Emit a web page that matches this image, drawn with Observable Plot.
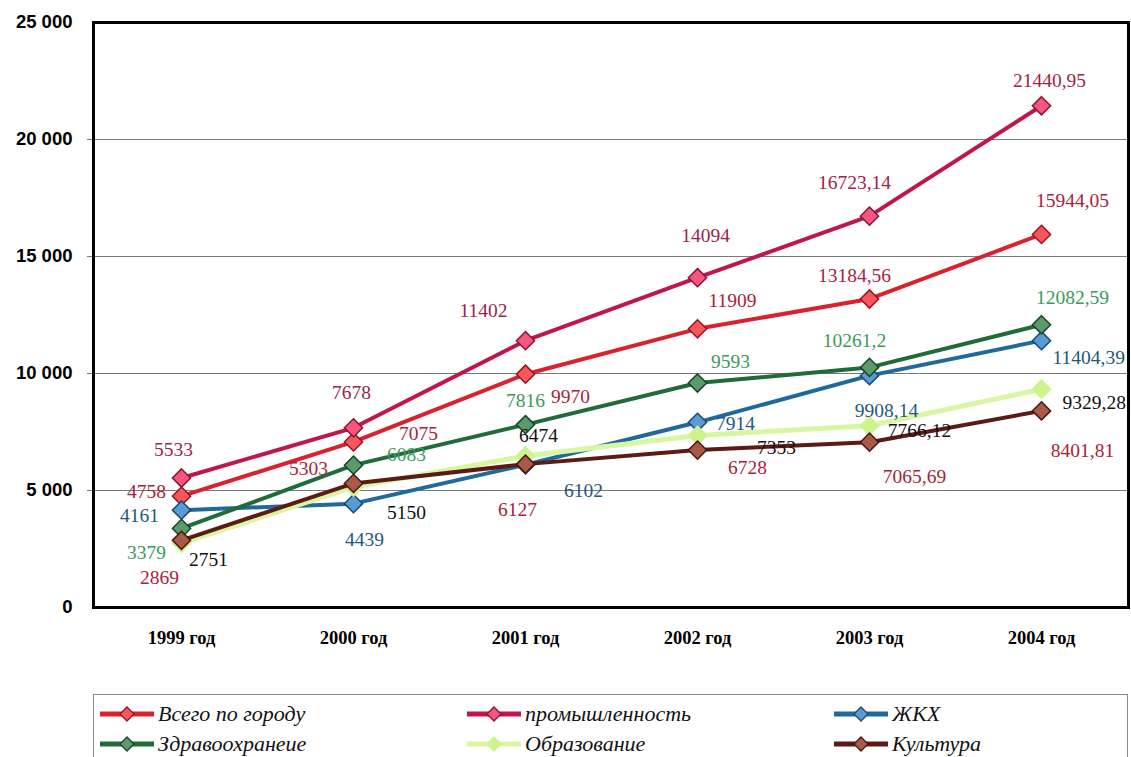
<!DOCTYPE html>
<html>
<head>
<meta charset="utf-8">
<script src="https://cdn.jsdelivr.net/npm/d3@7"></script>
<script src="https://cdn.jsdelivr.net/npm/@observablehq/plot@0.6"></script>
<style>
  body { margin: 0; background: white; width: 1131px; height: 757px; overflow: hidden; }
  #chart svg { display: block; }
  #legend { position: relative; margin-left: 93px; margin-top: 4px; width: 1035px; height: 63px;
            border: 1px solid #8a8a8a; border-bottom: none; box-sizing: border-box; }
  .item { position: absolute; display: flex; align-items: center; height: 26px;
          font-family: "Liberation Serif", serif; font-style: italic; font-size: 22px; color: #111; }
  .item svg { display: block; margin-right: 3px; }
</style>
</head>
<body>
<div id="chart"></div>
<div id="legend"></div>
<script>
// ---- data ----
const years = ["1999 год", "2000 год", "2001 год", "2002 год", "2003 год", "2004 год"];
const seriesNames = ["Всего по городу", "промышленность", "ЖКХ", "Здравоохранеие", "Образование", "Культура"];
const vsego = [4758, 7075, 9970, 11909, 13184.56, 15944.05];
const prom = [5533, 7678, 11402, 14094, 16723.14, 21440.95];
const zhkh = [4161, 4439, 6102, 7914, 9908.14, 11404.39];
const zdrav = [3379, 6083, 7816, 9593, 10261.2, 12082.59];
const obraz = [2751, 5150, 6474, 7353, 7766.12, 9329.28];
const kult = [2869, 5303, 6127, 6728, 7065.69, 8401.81];
const yTicks = [0, 5000, 10000, 15000, 20000, 25000];
const gridValues = [5000, 10000, 15000, 20000];

// ---- styling ----
const styles = [
  {line: "#d9222e", fill: "#f5585c", edge: "#9e1020", label: "#a8233a"},
  {line: "#c0174a", fill: "#f2587e", edge: "#8e1036", label: "#9e2348"},
  {line: "#1f6a9a", fill: "#5b9bd5", edge: "#174a70", label: "#1f5878"},
  {line: "#1f6b3a", fill: "#5b9a6b", edge: "#17452a", label: "#3a9a5a"},
  {line: "#d9f7a2", fill: "#cdf48c", edge: "#cdf48c", label: "#111111"},
  {line: "#5c1a14", fill: "#a85a48", edge: "#4a1510", label: "#a8233a"}
];
// label offsets (dx, dy, anchor) relative to each point — layout only
const labelLayout = [
  [[-35,-4],[65,-8],[45,23],[35,-28],[-15,-23],[31,-34]],
  [[-8,-28],[-2,-35],[-42,-30],[8,-42],[-15,-33],[8,-25]],
  [[-42,6],[11,36],[58,26],[38,1],[17,35],[11,17,"start"]],
  [[-35,24],[53,-10],[0,-24],[33,-21],[-15,-27],[31,-27]],
  [[27,17],[53,26],[13,-20],[79,12],[50,5],[21,14,"start"]],
  [[-22,37],[-45,-15],[-8,46],[50,18],[45,35],[41,40]]
];

const allValues = [vsego, prom, zhkh, zdrav, obraz, kult];
const tables = allValues.map((vals, s) => years.map((y, i) => ({year: y, value: vals[i], series: seriesNames[s]})));
const fmtLabel = v => String(v).replace(".", ",");
const fmtTick = d => d3.format(",")(d).replace(/,/g, " ");

const marks = [
  Plot.ruleY(gridValues, {stroke: "#7a7a7a", strokeWidth: 1, insetLeft: -6})
];
tables.forEach((t, s) => {
  const st = styles[s];
  marks.push(Plot.line(t, {x: "year", y: "value", stroke: st.line, strokeWidth: s === 4 ? 5 : 4}));
  marks.push(Plot.dot(t, {x: "year", y: "value", symbol: "diamond2", r: 8.2, fill: st.fill, stroke: st.edge, strokeWidth: 1.5}));
});
tables.forEach((t, s) => {
  t.forEach((d, i) => {
    const [dx, dy, anchor] = labelLayout[s][i];
    marks.push(Plot.text([d], {x: "year", y: "value", text: dd => fmtLabel(dd.value), dx, dy,
      textAnchor: anchor || "middle", fill: styles[s].label, fontSize: 19.5, fontFamily: "Liberation Serif"}));
  });
});
marks.push(Plot.frame({stroke: "black", strokeWidth: 3}));
marks.push(Plot.axisY({ticks: yTicks, tickFormat: fmtTick, tickSize: 0, tickPadding: 21, fontSize: 18.5,
  fontWeight: "bold", fontFamily: "Liberation Sans", label: null}));
marks.push(Plot.axisX({tickSize: 0, tickPadding: 23, fontSize: 18.5, fontWeight: "bold",
  fontFamily: "Liberation Serif", label: null}));

const chart = Plot.plot({
  width: 1131, height: 690,
  marginLeft: 93, marginRight: 3, marginTop: 22, marginBottom: 83,
  style: {background: "white", color: "black"},
  x: {type: "point", domain: years, padding: 0.5},
  y: {domain: [0, 25000]},
  marks
});
document.getElementById("chart").appendChild(chart);

// ---- legend ----
const legend = document.getElementById("legend");
const legendPos = [[5, 6], [372, 6], [739, 6], [5, 36], [372, 36], [739, 36]];
const legendOrder = [0, 1, 2, 3, 4, 5];
legendOrder.forEach((s, k) => {
  const st = styles[s];
  const div = document.createElement("div");
  div.className = "item";
  div.style.left = legendPos[k][0] + "px";
  div.style.top = legendPos[k][1] + "px";
  const ns = "http://www.w3.org/2000/svg";
  const sv = document.createElementNS(ns, "svg");
  sv.setAttribute("width", 56); sv.setAttribute("height", 20);
  const ln = document.createElementNS(ns, "line");
  ln.setAttribute("x1", 1); ln.setAttribute("x2", 55); ln.setAttribute("y1", 10); ln.setAttribute("y2", 10);
  ln.setAttribute("stroke", st.line); ln.setAttribute("stroke-width", 5);
  const dm = document.createElementNS(ns, "polygon");
  dm.setAttribute("points", "28,3 35,10 28,17 21,10");
  dm.setAttribute("fill", st.fill); dm.setAttribute("stroke", st.edge); dm.setAttribute("stroke-width", 1.3);
  sv.appendChild(ln); sv.appendChild(dm);
  div.appendChild(sv);
  const sp = document.createElement("span");
  sp.textContent = seriesNames[s];
  div.appendChild(sp);
  legend.appendChild(div);
});
</script>
</body>
</html>
